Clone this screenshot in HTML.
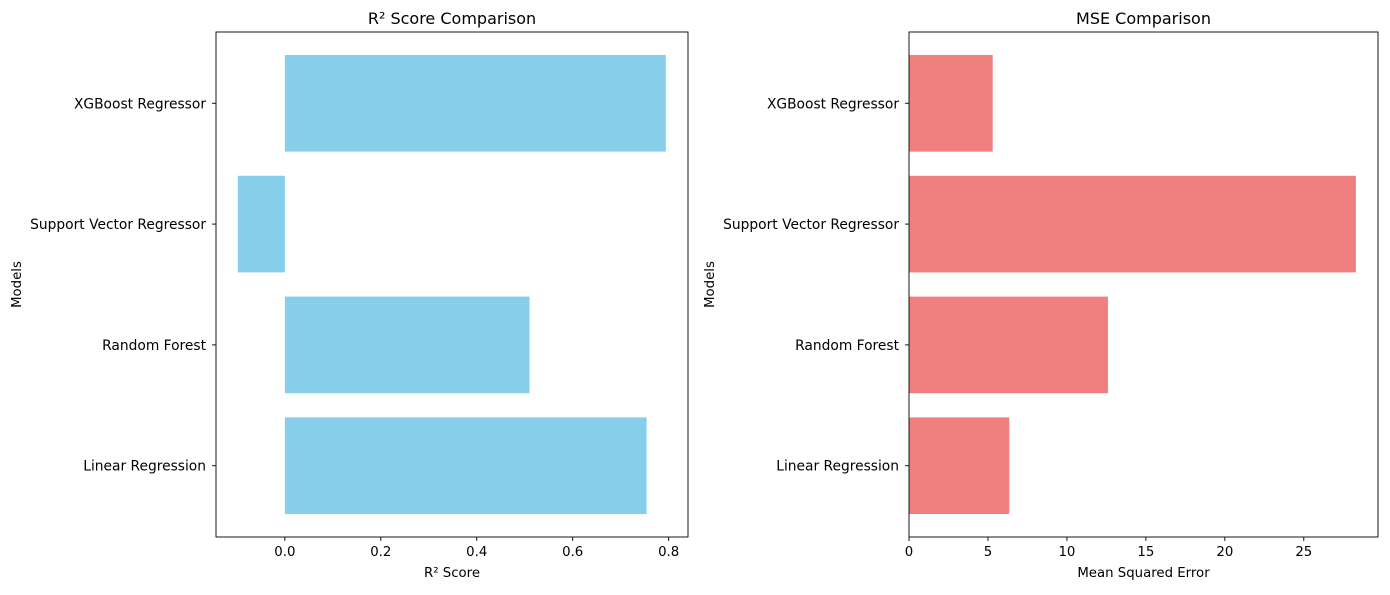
<!DOCTYPE html>
<html><head><meta charset="utf-8"><style>
body{margin:0;background:#fff;}
svg text{font-family:"DejaVu Sans","Liberation Sans",sans-serif;fill:#000;}
</style></head><body>
<svg id="chart" width="1390" height="590" xmlns="http://www.w3.org/2000/svg"></svg>
<script>
const categories = ["Linear Regression","Random Forest","Support Vector Regressor","XGBoost Regressor"];
const r2Values = [0.754, 0.510, -0.098, 0.794];
const mseValues = [6.35, 12.6, 28.3, 5.3];
const r2Ticks = [0.0, 0.2, 0.4, 0.6, 0.8];
const r2TickLabels = ["0.0","0.2","0.4","0.6","0.8"];
const mseTicks = [0, 5, 10, 15, 20, 25];
const mseTickLabels = ["0","5","10","15","20","25"];

const NS = "http://www.w3.org/2000/svg";
const svg = document.getElementById("chart");
function mk(tag, attrs, parent){const e=document.createElementNS(NS,tag);for(const k in attrs)e.setAttribute(k,attrs[k]);(parent||svg).appendChild(e);return e;}

function panel(opt){
  const g = mk("g",{});
  
  
  const {x0,x1,y0,y1,dmin,dmax} = opt;
  const xs = v => x0 + (v-dmin)/(dmax-dmin)*(x1-x0);
  const n = categories.length;
  const span = (n-1) + 0.8; const m = span*0.05;
  const ylo = -0.4-m, yhi = n-1+0.4+m;
  const ys = v => y1 - (v-ylo)/(yhi-ylo)*(y1-y0);
  const bh = 0.8*(y1-y0)/(yhi-ylo);
  opt.values.forEach((v,i)=>{
    const a = xs(Math.min(0,v)), b = xs(Math.max(0,v));
    const r = mk("rect",{x:a,y:ys(i)-bh/2,width:b-a,height:bh,fill:opt.color},g);
    
    
    mk("line",{x1:x0-4,x2:x0,y1:ys(i),y2:ys(i),stroke:"#000","stroke-width":0.9},g);
    const t = mk("text",{x:x0-10,y:ys(i)+5,"text-anchor":"end","font-size":"13.8"},g);
    t.textContent = categories[i];
    
    
  });
  opt.ticks.forEach((v,i)=>{
    const x = xs(v);
    mk("line",{x1:x,x2:x,y1:y1,y2:y1+4,stroke:"#000","stroke-width":0.9},g);
    const t = mk("text",{x:x,y:y1+19,"text-anchor":"middle","font-size":"13.3"},g);
    t.textContent = opt.tickLabels[i];
    
    
  });
  const fr = mk("rect",{x:x0,y:y0,width:x1-x0,height:y1-y0,fill:"none",stroke:"#000","stroke-width":0.9},g);
  
  
  const tt = mk("text",{x:(x0+x1)/2,y:y0-8,"text-anchor":"middle","font-size":"16"},g);
  tt.textContent = opt.title;
  
  
  const xl = mk("text",{x:(x0+x1)/2,y:y1+40,"text-anchor":"middle","font-size":"13.3"},g);
  xl.textContent = opt.xlabel;
  
  
  const yl = mk("text",{x:0,y:0,"text-anchor":"middle","font-size":"13.3",transform:`translate(${opt.ylx},${(y0+y1)/2}) rotate(-90)`},g);
  yl.textContent = "Models";
  
  
}
panel({name:"r2-panel",x0:216,x1:688,y0:32,y1:537,dmin:-0.1435,dmax:0.8403,values:r2Values,ticks:r2Ticks,tickLabels:r2TickLabels,color:"#87CEEB",title:"R² Score Comparison",xlabel:"R² Score",ylx:21});
panel({name:"mse-panel",x0:909,x1:1378,y0:32,y1:537,dmin:0,dmax:29.7,values:mseValues,ticks:mseTicks,tickLabels:mseTickLabels,color:"#F08080",title:"MSE Comparison",xlabel:"Mean Squared Error",ylx:714});
</script>
</body></html>
